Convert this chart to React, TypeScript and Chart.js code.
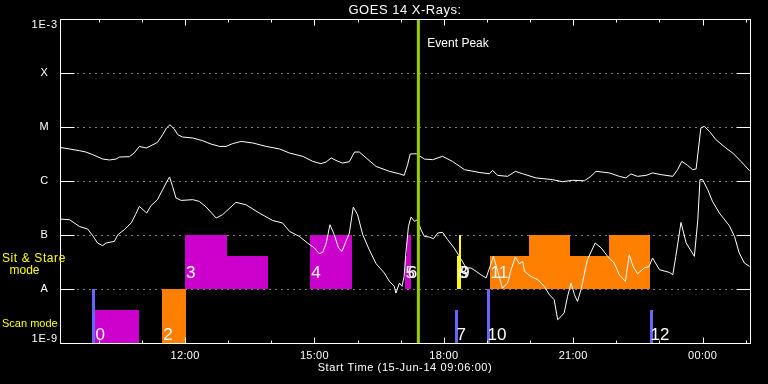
import { useEffect, useRef } from "react";
import { Chart, registerables } from "chart.js";

Chart.register(...registerables);

// ---- data (time in hours from 00:00 15-Jun-14; values > 24 are after midnight) ----
const longTimes = [
  9.09, 9.32, 9.55, 9.70, 9.86, 10.09, 10.25, 10.40, 10.48, 10.71,
  10.82, 10.94, 11.10, 11.21, 11.36, 11.48, 11.57, 11.65, 11.75, 11.83,
  11.94, 12.18, 12.41, 12.60, 12.80, 12.95, 13.10, 13.30, 13.57, 13.88,
  14.19, 14.42, 14.73, 14.96, 15.15, 15.27, 15.39, 15.50, 15.65, 15.81,
  15.93, 16.04, 16.20, 16.43, 16.74, 16.97, 17.08, 17.16, 17.22, 17.36,
  17.55, 17.74, 17.97, 18.20, 18.48, 18.82, 19.06, 19.13, 19.25, 19.48,
  19.66, 19.83, 20.14, 20.52, 20.75, 20.99, 21.26, 21.41, 21.53, 21.84,
  22.07, 22.22, 22.34, 22.49, 22.69, 22.84, 23.04, 23.31, 23.42, 23.52,
  23.65, 23.77, 23.85, 23.92, 23.96, 24.04, 24.16, 24.31, 24.54, 24.70,
  24.89, 25.09,
];
const longFlux = [
  4.19e-6, 3.92e-6, 3.64e-6, 3.44e-6, 3.07e-6, 2.55e-6, 2.45e-6, 2.55e-6, 2.78e-6, 2.82e-6,
  3.30e-6, 4.37e-6, 4.08e-6, 4.51e-6, 5.19e-6, 7.2e-6, 9.58e-6, 1.10e-5, 9.18e-6, 7.2e-6,
  6.53e-6, 6.25e-6, 5.57e-6, 4.84e-6, 4.37e-6, 4.37e-6, 4.91e-6, 5.41e-6, 5.06e-6, 4.37e-6,
  3.92e-6, 3.30e-6, 2.86e-6, 2.31e-6, 2.09e-6, 2.25e-6, 2.67e-6, 2.40e-6, 2.15e-6, 2.28e-6,
  3.44e-6, 3.44e-6, 2.67e-6, 1.86e-6, 1.51e-6, 1.36e-6, 1.27e-6, 2.0e-6, 3.16e-6, 3.2e-6,
  2.55e-6, 2.48e-6, 2.86e-6, 2.31e-6, 1.62e-6, 1.44e-6, 1.36e-6, 1.57e-6, 1.27e-6, 1.22e-6,
  1.51e-6, 1.36e-6, 1.14e-6, 1.06e-6, 9.7e-7, 1.03e-6, 1.01e-6, 1.22e-6, 1.51e-6, 1.41e-6,
  1.22e-6, 1.14e-6, 1.35e-6, 1.22e-6, 1.27e-6, 1.41e-6, 1.31e-6, 1.22e-6, 1.62e-6, 2.31e-6,
  1.95e-6, 1.62e-6, 1.67e-6, 5.06e-6, 9.58e-6, 1.03e-5, 8.3e-6, 5.82e-6, 4.08e-6, 3.30e-6,
  2.31e-6, 1.55e-6,
];
const shortTimes = [
  9.09, 9.32, 9.55, 9.74, 9.86, 9.97, 10.09, 10.17, 10.36, 10.44,
  10.59, 10.75, 10.85, 10.94, 11.11, 11.21, 11.36, 11.48, 11.56, 11.64,
  11.71, 11.79, 11.91, 12.18, 12.33, 12.49, 12.72, 12.87, 13.18, 13.41,
  13.72, 14.03, 14.26, 14.42, 14.65, 14.84, 15.00, 15.11, 15.19, 15.27,
  15.36, 15.46, 15.56, 15.64, 15.73, 15.81, 15.90, 16.00, 16.12, 16.27,
  16.43, 16.62, 16.74, 16.85, 16.89, 16.97, 17.03, 17.08, 17.12, 17.18,
  17.24, 17.32, 17.39, 17.47, 17.55, 17.66, 17.76, 17.86, 17.97, 18.09,
  18.24, 18.36, 18.52, 18.63, 18.75, 18.86, 18.98, 19.06, 19.15, 19.25,
  19.36, 19.48, 19.56, 19.66, 19.75, 19.83, 19.87, 20.02, 20.18, 20.33,
  20.45, 20.56, 20.64, 20.72, 20.79, 20.87, 20.95, 21.03, 21.10, 21.18,
  21.33, 21.51, 21.65, 21.80, 21.95, 22.07, 22.21, 22.30, 22.39, 22.49,
  22.65, 22.76, 22.84, 23.00, 23.23, 23.31, 23.38, 23.50, 23.62, 23.81,
  23.89, 23.94, 24.00, 24.12, 24.23, 24.39, 24.62, 24.74, 24.85, 24.97, 25.09,
];
const shortFlux = [
  1.98e-7, 1.92e-7, 1.44e-7, 1.29e-7, 9.7e-8, 7.11e-8, 6.34e-8, 7.11e-8, 7.61e-8, 1.01e-7,
  1.25e-7, 1.67e-7, 2.38e-7, 3.39e-7, 2.55e-7, 3.49e-7, 4.51e-7, 6.9e-7, 9.18e-7, 1.19e-6,
  7.94e-7, 4.84e-7, 4.37e-7, 4.51e-7, 4.19e-7, 3.30e-7, 2.06e-7, 2.38e-7, 4.02e-7, 3.64e-7,
  2.55e-7, 1.86e-7, 1.67e-7, 1.17e-7, 9.4e-8, 7.11e-8, 5.74e-8, 4.51e-8, 4.76e-8, 6.9e-8,
  1.55e-7, 1.01e-7, 5.74e-8, 4.97e-8, 7.61e-8, 1.09e-7, 3.30e-7, 2.38e-7, 1.01e-7, 5.35e-8,
  2.94e-8, 1.98e-8, 1.38e-8, 1.12e-8, 8.4e-9, 1.29e-8, 1.12e-8, 1.71e-8, 4.64e-8, 1.44e-7,
  2.15e-7, 1.79e-7, 1.92e-7, 1.25e-7, 9.4e-8, 9.18e-8, 8.53e-8, 1.09e-7, 1.12e-7, 8.18e-8,
  5.74e-8, 4.02e-8, 2.45e-8, 2.45e-8, 2.12e-8, 1.84e-8, 1.60e-8, 2.45e-8, 4.02e-8, 2.12e-8,
  1.04e-8, 1.29e-8, 2.28e-8, 3.92e-8, 2.94e-8, 3.24e-8, 2.12e-8, 1.71e-8, 1.49e-8, 1.12e-8,
  7.8e-9, 6.34e-9, 2.70e-9, 3.11e-9, 3.60e-9, 7.3e-9, 1.29e-8, 7.8e-9, 5.89e-9, 9.7e-9,
  3.49e-8, 7.11e-8, 5.74e-8, 4.02e-8, 3.03e-8, 1.84e-8, 1.38e-8, 4.31e-8, 2.62e-8, 1.92e-8,
  2.45e-8, 2.62e-8, 3.75e-8, 2.28e-8, 2.03e-8, 1.84e-8, 4.02e-8, 1.71e-7, 7.11e-8, 4.02e-8,
  1.92e-7, 1.06e-6, 1.06e-6, 6.9e-7, 4.19e-7, 2.55e-7, 1.49e-7, 9.4e-8, 4.64e-8, 3.03e-8, 2.62e-8,
];

// observation blocks
const blockStart = [9.90, 9.85, 11.47, 12.00, 12.97, 14.90, 17.09, 17.14, 18.27, 18.31, 18.36, 18.99, 19.06, 19.98, 20.93, 21.84, 22.77];
const blockEnd = [10.93, 9.92, 12.02, 12.97, 13.92, 15.87, 17.24, 17.24, 18.34, 18.39, 18.39, 19.06, 19.98, 20.93, 21.84, 22.78, 22.84];
const blockMode = ["scan", "scan", "scan", "ss", "ss", "ss", "ss", "ss", "scan", "ss", "ss", "scan", "ss", "ss", "ss", "ss", "scan"];
const blockHeight = ["part", "full", "full", "full", "part", "full", "part", "full", "part", "part", "full", "full", "part", "full", "part", "full", "part"];
const blockColor = ["#cc00cc", "#6666ff", "#ff8000", "#cc00cc", "#cc00cc", "#cc00cc", "#cc00cc", "#cc00cc", "#6666ff", "#ffff00", "#ffff00", "#6666ff", "#ff8000", "#ff8000", "#ff8000", "#ff8000", "#6666ff"];
const blockLabel = ["0", "", "2", "3", "", "4", "5", "6", "7", "8", "9", "10", "11", "", "", "", "12"];

// band levels (flux)
const ssLow = 1e-8, ssFull = 1e-7, ssPart = 4.14e-8, ssLabel = 1.62e-8;
const scanLow = 1e-9, scanFull = 1e-8, scanPart = 4.14e-9, scanLabel = 1.15e-9;

const xMin = 9.1, xMax = 25.1;
const eventPeak = 17.41;
const yTickValues = [1e-3, 1e-4, 1e-5, 1e-6, 1e-7, 1e-8, 1e-9];
const yTickLabels = ["1E-3", "X", "M", "C", "B", "A", "1E-9"];
const xMinorTicks = [10, 11, 12, 13, 14, 15, 16, 17, 18, 19, 20, 21, 22, 23, 24, 25];
const xMajorTicks = [12, 15, 18, 21, 24];
const xMajorLabels = ["12:00", "15:00", "18:00", "21:00", "00:00"];
const titleText = "GOES 14 X-Rays:";
const xTitle = "Start Time (15-Jun-14 09:06:00)";

const FONT = '"Liberation Sans", Arial, sans-serif';

const decor = {
  id: "decor",
  beforeDatasetsDraw(chart: any) {
    const { ctx, chartArea: a, scales } = chart;
    const x = scales.x, y = scales.y;
    ctx.save();
    ctx.strokeStyle = "#ffffff";
    ctx.lineWidth = 1;
    const L = Math.round(a.left) + 0.5, R = Math.round(a.right) + 0.5;
    for (let i = 1; i < yTickValues.length - 1; i++) {
      const py = Math.round(y.getPixelForValue(yTickValues[i])) + 0.5;
      ctx.setLineDash([]);
      ctx.beginPath();
      ctx.moveTo(L, py); ctx.lineTo(L + 14, py);
      ctx.moveTo(R - 14, py); ctx.lineTo(R, py);
      ctx.stroke();
      ctx.setLineDash([1, 5]);
      ctx.beginPath();
      ctx.moveTo(L + 17, py); ctx.lineTo(R - 14, py);
      ctx.stroke();
    }
    ctx.setLineDash([]);
    // blocks
    for (let i = 0; i < blockStart.length; i++) {
      const lo = blockMode[i] === "ss" ? ssLow : scanLow;
      const hi = blockMode[i] === "ss" ? (blockHeight[i] === "full" ? ssFull : ssPart) : (blockHeight[i] === "full" ? scanFull : scanPart);
      const x0 = Math.round(x.getPixelForValue(blockStart[i]));
      const x1 = Math.round(x.getPixelForValue(blockEnd[i]));
      const y0 = Math.round(y.getPixelForValue(hi));
      const y1 = Math.round(y.getPixelForValue(lo));
      ctx.fillStyle = blockColor[i];
      ctx.fillRect(x0, y0, Math.max(1, x1 - x0), y1 - y0);
    }
    ctx.restore();
  },
  afterDatasetsDraw(chart: any) {
    const { ctx, chartArea: a, scales } = chart;
    const x = scales.x, y = scales.y;
    ctx.save();
    // event peak
    const ex = x.getPixelForValue(eventPeak);
    ctx.strokeStyle = "#99cc00";
    ctx.lineWidth = 3;
    ctx.beginPath();
    ctx.moveTo(ex, a.top); ctx.lineTo(ex, a.bottom);
    ctx.stroke();
    ctx.fillStyle = "#ffffff";
    ctx.font = `12px ${FONT}`;
    ctx.textAlign = "left";
    ctx.textBaseline = "alphabetic";
    ctx.fillText("Event Peak", ex + 9, 47);
    // block labels
    ctx.font = `17px ${FONT}`;
    for (let i = 0; i < blockStart.length; i++) {
      if (!blockLabel[i]) continue;
      const px = x.getPixelForValue(blockStart[i]);
      const py = y.getPixelForValue(blockMode[i] === "ss" ? ssLabel : scanLabel);
      ctx.fillText(blockLabel[i], px + 1, py);
    }
    // frame
    ctx.strokeStyle = "#ffffff";
    ctx.lineWidth = 1;
    const L = Math.round(a.left) + 0.5, R = Math.round(a.right) + 0.5;
    const T = Math.round(a.top) + 0.5, B = Math.round(a.bottom) + 0.5;
    ctx.strokeRect(L, T, R - L, B - T);
    ctx.beginPath();
    for (const t of xMinorTicks) {
      const px = Math.round(x.getPixelForValue(t)) + 0.5;
      const len = xMajorTicks.includes(t) ? 6 : 3;
      ctx.moveTo(px, T); ctx.lineTo(px, T + len);
      ctx.moveTo(px, B); ctx.lineTo(px, B - len);
    }
    ctx.stroke();
    // x labels
    ctx.font = `11px ${FONT}`;
    ctx.textAlign = "center";
    ctx.textBaseline = "middle";
    (ctx as any).letterSpacing = "0.3px";
    xMajorTicks.forEach((t, i) => {
      ctx.fillText(xMajorLabels[i], x.getPixelForValue(t), 355.5);
    });
    (ctx as any).letterSpacing = "0.6px";
    ctx.fillText(xTitle, (a.left + a.right) / 2, 368);
    // y labels
    (ctx as any).letterSpacing = "0.8px";
    yTickValues.forEach((v, i) => {
      const py = y.getPixelForValue(v);
      const lab = yTickLabels[i];
      if (i === 0) {
        ctx.textAlign = "right"; ctx.textBaseline = "top";
        ctx.fillText(lab, 58, py);
      } else if (i === yTickValues.length - 1) {
        ctx.textAlign = "right"; ctx.textBaseline = "bottom";
        ctx.fillText(lab, 58, py + 1);
      } else {
        ctx.textAlign = "center"; ctx.textBaseline = "middle";
        ctx.fillText(lab, 44.5, py);
      }
    });
    // title
    (ctx as any).letterSpacing = "0.5px";
    ctx.font = `13px ${FONT}`;
    ctx.textAlign = "center";
    ctx.textBaseline = "middle";
    ctx.fillText(titleText, (a.left + a.right) / 2, 10);
    // mode labels
    ctx.fillStyle = "#ffff00";
    ctx.font = `12px ${FONT}`;
    ctx.textAlign = "left";
    (ctx as any).letterSpacing = "0.6px";
    ctx.fillText("Sit & Stare", 2, 259);
    (ctx as any).letterSpacing = "0px";
    ctx.textAlign = "center";
    ctx.fillText("mode", 24.5, 271);
    ctx.textAlign = "left";
    ctx.font = `11px ${FONT}`;
    ctx.fillText("Scan mode", 2, 324);
    ctx.restore();
  },
};

export default function App() {
  const ref = useRef<HTMLCanvasElement | null>(null);
  useEffect(() => {
    if (!ref.current) return;
    const chart = new Chart(ref.current, {
      type: "line",
      data: {
        datasets: [
          {
            label: "1-8 A",
            data: longTimes.map((t, i) => ({ x: t, y: longFlux[i] })),
            borderColor: "#ffffff",
            borderWidth: 1,
            pointRadius: 0,
            tension: 0,
          },
          {
            label: "0.5-4 A",
            data: shortTimes.map((t, i) => ({ x: t, y: shortFlux[i] })),
            borderColor: "#ffffff",
            borderWidth: 1,
            pointRadius: 0,
            tension: 0,
          },
        ],
      },
      options: {
        responsive: false,
        animation: false,
        layout: { padding: { left: 60, top: 19, right: 18, bottom: 41 } },
        plugins: { legend: { display: false }, tooltip: { enabled: false }, title: { display: false } },
        scales: {
          x: { type: "linear", min: xMin, max: xMax, display: false },
          y: { type: "logarithmic", min: 1e-9, max: 1e-3, display: false },
        },
      },
      plugins: [decor],
    });
    return () => chart.destroy();
  }, []);
  return (
    <div style={{ position: "fixed", left: 0, top: 0, width: 768, height: 384, background: "#000" }}>
      <canvas ref={ref} width={768} height={384} style={{ display: "block" }} />
    </div>
  );
}
